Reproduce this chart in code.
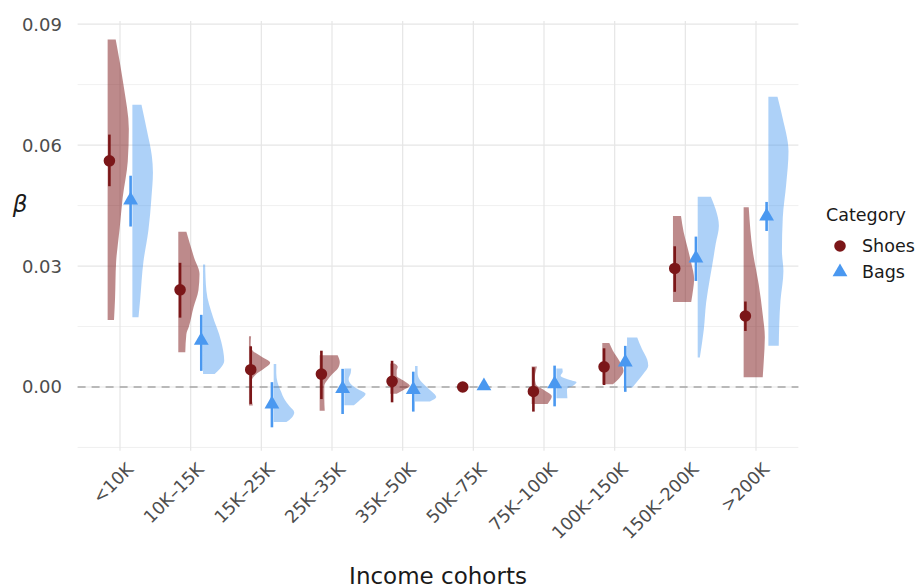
<!DOCTYPE html>
<html>
<head>
<meta charset="utf-8">
<script src="https://cdn.jsdelivr.net/npm/d3@7"></script>
<style>
  body { margin: 0; background: white; }
</style>
</head>
<body>
<div id="chart"></div>
<script>
// Income cohorts (x categories)
const cohorts = ["<10K", "10K–15K", "15K–25K", "25K–35K", "35K–50K", "50K–75K", "75K–100K", "100K–150K", "150K–200K", ">200K"];

// Point estimates and intervals
const shoesEst = [0.0561, 0.0241, 0.0043, 0.0032, 0.0014, 0, -0.0011, 0.005, 0.0294, 0.0176];
const shoesLo = [0.0498, 0.0172, -0.0042, -0.003, -0.0038, null, -0.0061, 0.0005, 0.0236, 0.0139];
const shoesHi = [0.0626, 0.0308, 0.0101, 0.009, 0.0065, null, 0.0049, 0.0096, 0.0349, 0.0212];
const bagsEst = [0.0461, 0.0113, -0.0045, -0.0007, -0.0009, 0, 0.0005, 0.0059, 0.0317, 0.0421];
const bagsLo = [0.0398, 0.004, -0.01, -0.0067, -0.0061, null, -0.0048, -0.0012, 0.0263, 0.0387];
const bagsHi = [0.0524, 0.0179, 0.0012, 0.0045, 0.0038, null, 0.0053, 0.0102, 0.0373, 0.0459];

// Half-violin profiles: [beta, relative width]
const shoesViolins = [
  [[0.0862, 0.38], [0.0745, 0.76], [0.064, 1.0], [0.056, 0.95], [0.047, 0.71], [0.039, 0.56], [0.031, 0.4], [0.022, 0.35], [0.0166, 0.3]],
  [[0.0385, 0.38], [0.032, 0.75], [0.028, 1.0], [0.024, 0.95], [0.0198, 0.72], [0.015, 0.5], [0.0131, 0.38], [0.0086, 0.33]],
  [[0.0126, 0.1], [0.0105, 0.08], [0.0092, 0.15], [0.0075, 0.6], [0.006, 1.0], [0.0045, 0.7], [0.003, 0.3], [0.0015, 0.12], [-0.001, 0.1], [-0.0046, 0.18]],
  [[0.0079, 0.85], [0.0062, 0.95], [0.0045, 0.85], [0.0032, 0.6], [0.0016, 0.35], [0.0003, 0.22], [-0.003, 0.22], [-0.0059, 0.24]],
  [[0.0058, 0.2], [0.005, 0.35], [0.004, 0.3], [0.0028, 0.3], [0.0015, 0.65], [0.0003, 0.92], [-0.0008, 0.6], [-0.0017, 0.3]],
  null,
  [[0.0051, 0.25], [0.004, 0.2], [0.0025, 0.15], [0.0007, 0.2], [-0.0008, 0.6], [-0.0023, 0.95], [-0.0035, 0.85], [-0.0042, 0.75]],
  [[0.0109, 0.33], [0.009, 0.5], [0.0065, 0.8], [0.004, 1.0], [0.0022, 0.8], [0.0007, 0.5]],
  [[0.0424, 0.38], [0.0385, 0.5], [0.0349, 0.67], [0.0308, 0.86], [0.0267, 1.0], [0.0242, 0.95], [0.0211, 0.86]],
  [[0.0446, 0.24], [0.0337, 0.43], [0.0255, 0.71], [0.018, 0.9], [0.0124, 1.0], [0.0065, 0.95], [0.0024, 0.9]]
];
const bagsViolins = [
  [[0.07, 0.43], [0.0638, 0.68], [0.0572, 0.92], [0.0532, 0.97], [0.047, 0.9], [0.039, 0.76], [0.031, 0.52], [0.0218, 0.37], [0.0173, 0.29]],
  [[0.0304, 0.1], [0.0238, 0.16], [0.0172, 0.48], [0.0131, 0.76], [0.009, 0.95], [0.0065, 1.0], [0.0045, 0.8], [0.0032, 0.55]],
  [[0.0057, 0.12], [0.0035, 0.12], [0.0012, 0.18], [-0.0012, 0.35], [-0.003, 0.5], [-0.0048, 0.75], [-0.0063, 0.97], [-0.0076, 0.85], [-0.0087, 0.6]],
  [[0.0046, 0.32], [0.0035, 0.3], [0.002, 0.2], [0.0005, 0.35], [-0.0005, 0.62], [-0.0017, 1.0], [-0.0034, 0.7], [-0.0045, 0.45]],
  [[0.0052, 0.12], [0.0035, 0.12], [0.002, 0.2], [0.0005, 0.45], [-0.0012, 0.8], [-0.0025, 1.0], [-0.0036, 0.7]],
  null,
  [[0.0046, 0.28], [0.0038, 0.3], [0.0028, 0.2], [0.0018, 0.6], [0.0012, 0.95], [0.0004, 0.8], [-0.0005, 0.5], [-0.0028, 0.52]],
  [[0.0123, 0.48], [0.0095, 0.7], [0.0068, 0.95], [0.0053, 1.0], [0.0035, 0.8], [0.0015, 0.5], [-0.0001, 0.25]],
  [[0.0472, 0.62], [0.044, 0.85], [0.04, 1.0], [0.0355, 0.85], [0.031, 0.71], [0.0267, 0.57], [0.021, 0.4], [0.0143, 0.29], [0.0073, 0.1]],
  [[0.072, 0.43], [0.0668, 0.67], [0.0585, 0.95], [0.0502, 0.84], [0.042, 0.68], [0.0337, 0.64], [0.0288, 0.71], [0.0213, 0.57], [0.0102, 0.49]]
];

// Axis ticks
const yMajor = [0, 0.03, 0.06, 0.09];
const yMinor = [-0.015, 0.015, 0.045, 0.075];

const series = [
  { name: "Shoes", est: shoesEst, lo: shoesLo, hi: shoesHi, violins: shoesViolins, color: "#7b1618", fill: "#7b1618", fillOpacity: 0.5, shape: d3.symbolCircle, size: 105, side: -1 },
  { name: "Bags", est: bagsEst, lo: bagsLo, hi: bagsHi, violins: bagsViolins, color: "#4a98f0", fill: "#4a98f0", fillOpacity: 0.45, shape: d3.symbolTriangle, size: 95, side: 1 }
];

const width = 915;
const height = 588;
const panel = { left: 77.6, right: 798.4, top: 20.9, bottom: 450.7 };
const font = "DejaVu Sans, sans-serif";

// Create x-scale (categorical for each cohort)
const xScale = d3
  .scalePoint()
  .domain(cohorts)
  .range([panel.left, panel.right])
  .padding(0.6);
const step = xScale.step();

// Create y-scale
const yScale = d3
  .scaleLinear()
  .domain([-0.0158, 0.0908])
  .range([panel.bottom, panel.top]);

// Create SVG container
const svg = d3
  .select("#chart")
  .append("svg")
  .attr("width", width)
  .attr("height", height)
  .style("background", "white");

// Add minor gridlines
svg
  .append("g")
  .selectAll("line")
  .data(yMinor)
  .join("line")
  .attr("x1", panel.left)
  .attr("x2", panel.right)
  .attr("y1", (d) => yScale(d))
  .attr("y2", (d) => yScale(d))
  .attr("stroke", "#ececec")
  .attr("stroke-width", 0.8);

// Add major gridlines
svg
  .append("g")
  .selectAll("line")
  .data(yMajor)
  .join("line")
  .attr("x1", panel.left)
  .attr("x2", panel.right)
  .attr("y1", (d) => yScale(d))
  .attr("y2", (d) => yScale(d))
  .attr("stroke", "#e6e6e6")
  .attr("stroke-width", 1.2);

svg
  .append("g")
  .selectAll("line")
  .data(cohorts)
  .join("line")
  .attr("x1", (d) => xScale(d))
  .attr("x2", (d) => xScale(d))
  .attr("y1", panel.top)
  .attr("y2", panel.bottom)
  .attr("stroke", "#e6e6e6")
  .attr("stroke-width", 1.2);

// Add zero reference line
svg
  .append("line")
  .attr("x1", panel.left)
  .attr("x2", panel.right)
  .attr("y1", yScale(0))
  .attr("y2", yScale(0))
  .attr("stroke", "#a6a6a6")
  .attr("stroke-width", 1.6)
  .attr("stroke-dasharray", "8,6");

// Add half violins
const violinWidth = 0.3 * step;
series.forEach((s) => {
  const base = (i) => xScale(cohorts[i]) + s.side * 0.175 * step;
  svg
    .append("g")
    .selectAll("path")
    .data(s.violins.map((v, i) => ({ v, i })).filter((d) => d.v))
    .join("path")
    .attr("d", (d) =>
      d3
        .area()
        .y((p) => yScale(p[0]))
        .x0(base(d.i))
        .x1((p) => base(d.i) + p[1] * violinWidth)
        .curve(d3.curveMonotoneY)(d.v.slice().reverse())
    )
    .attr("fill", s.fill)
    .attr("fill-opacity", s.fillOpacity);
});

// Add intervals and points
series.forEach((s) => {
  const px = (i) => xScale(cohorts[i]) + s.side * 0.15 * step;
  const g = svg.append("g");
  g.selectAll("line")
    .data(cohorts.map((c, i) => i).filter((i) => s.lo[i] !== null))
    .join("line")
    .attr("x1", px)
    .attr("x2", px)
    .attr("y1", (i) => yScale(s.lo[i]))
    .attr("y2", (i) => yScale(s.hi[i]))
    .attr("stroke", s.color)
    .attr("stroke-width", 2.6);
  g.selectAll("path")
    .data(cohorts.map((c, i) => i))
    .join("path")
    .attr("d", d3.symbol(s.shape).size(s.size))
    .attr("transform", (i) => `translate(${px(i)}, ${yScale(s.est[i]) + (s.name === "Bags" ? -1 : 0)})`)
    .attr("fill", s.color);
});

// Create y-axis labels
svg
  .append("g")
  .selectAll("text")
  .data(yMajor)
  .join("text")
  .attr("x", 62)
  .attr("y", (d) => yScale(d))
  .attr("dy", "0.36em")
  .attr("text-anchor", "end")
  .attr("font-family", font)
  .attr("font-size", "18px")
  .attr("fill", "#4d4d4d")
  .text(d3.format(".2f"));

// Create x-axis labels
svg
  .append("g")
  .selectAll("text")
  .data(cohorts)
  .join("text")
  .attr("transform", (d) => `translate(${xScale(d) + 5}, ${461}) rotate(-45)`)
  .attr("dy", "0.75em")
  .attr("text-anchor", "end")
  .attr("font-family", font)
  .attr("font-size", "17.5px")
  .attr("fill", "#4d4d4d")
  .text((d) => d);

// Add x-axis label
svg
  .append("text")
  .attr("x", (panel.left + panel.right) / 2)
  .attr("y", 584)
  .attr("text-anchor", "middle")
  .attr("font-family", font)
  .attr("font-size", "23px")
  .attr("fill", "#1a1a1a")
  .text("Income cohorts");

// Add y-axis label
svg
  .append("text")
  .attr("x", 20)
  .attr("y", 212)
  .attr("text-anchor", "middle")
  .attr("font-family", font)
  .attr("font-style", "italic")
  .attr("font-size", "23px")
  .attr("fill", "#1a1a1a")
  .text("β");

// Add legend
const legend = svg.append("g").attr("transform", "translate(826, 0)");
legend
  .append("text")
  .attr("x", 0)
  .attr("y", 221)
  .attr("font-family", font)
  .attr("font-size", "17.5px")
  .attr("fill", "#1a1a1a")
  .text("Category");
series.forEach((s, i) => {
  const cy = 246 + i * 26;
  legend
    .append("path")
    .attr("d", d3.symbol(s.shape).size(s.size))
    .attr("transform", `translate(14, ${cy})`)
    .attr("fill", s.color);
  legend
    .append("text")
    .attr("x", 36)
    .attr("y", cy)
    .attr("dy", "0.36em")
    .attr("font-family", font)
    .attr("font-size", "17.5px")
    .attr("fill", "#1a1a1a")
    .text(s.name);
});
</script>
</body>
</html>
